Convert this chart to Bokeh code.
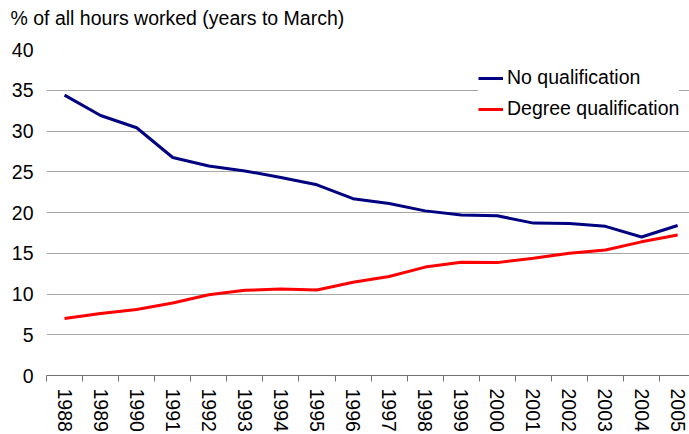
from bokeh.plotting import figure
from bokeh.models import (Range1d, FixedTicker, Legend, LegendItem, ColumnDataSource, Title)
from bokeh.embed import file_html
from bokeh.resources import INLINE

years = list(range(1988, 2006))
no_qualification = [34.4, 31.9, 30.4, 26.75, 25.7, 25.1, 24.3, 23.4, 21.7, 21.1,
                    20.2, 19.7, 19.6, 18.7, 18.65, 18.3, 17.0, 18.4]
degree_qualification = [7.0, 7.6, 8.1, 8.9, 9.9, 10.45, 10.6, 10.5, 11.45, 12.15,
                        13.3, 13.9, 13.85, 14.4, 15.0, 15.4, 16.4, 17.25]
y_ticks = [0, 5, 10, 15, 20, 25, 30, 35, 40]
title_text = "% of all hours worked (years to March)"
series_names = ["No qualification", "Degree qualification"]

FONT = "Liberation Sans"
FS = "19.5px"

src = ColumnDataSource(dict(year=years, noq=no_qualification, deg=degree_qualification))

p = figure(width=689, height=434, output_backend="svg", toolbar_location=None, title=None,
           x_range=Range1d(1987.5, 2005.33), y_range=Range1d(0, 40),
           min_border_left=46, min_border_right=0, min_border_top=49, min_border_bottom=58)
p.outline_line_color = None
p.background_fill_color = "white"
p.border_fill_color = "white"

# spacer panel just above the frame, then the real title above it
spacer = Title(text=" ", text_font_size="1px", standoff=18)
p.add_layout(spacer, "above")
main_title = Title(text=title_text, text_font=FONT, text_font_size=FS, text_font_style="normal",
                   text_color="black", align="left", offset=-36, standoff=0)
p.add_layout(main_title, "above")

r1 = p.line("year", "noq", source=src, line_color="#000080", line_width=3)
r2 = p.line("year", "deg", source=src, line_color="#FF0000", line_width=3)

# y axis
p.yaxis.ticker = FixedTicker(ticks=y_ticks)
p.yaxis.axis_line_color = None
p.yaxis.major_tick_line_color = None
p.yaxis.minor_tick_line_color = None
p.yaxis.major_tick_out = 0
p.yaxis.major_tick_in = 0
p.yaxis.major_label_standoff = 13
p.yaxis.major_label_text_font = FONT
p.yaxis.major_label_text_font_size = FS
p.yaxis.major_label_text_color = "black"

p.ygrid.ticker = FixedTicker(ticks=y_ticks)
p.ygrid.grid_line_color = "#a6a6a6"
p.ygrid.grid_line_width = 1
p.xgrid.grid_line_color = None

# x axis
p.xaxis.ticker = FixedTicker(ticks=years, minor_ticks=[y - 0.5 for y in years] + [years[-1] + 0.5])
p.xaxis.axis_line_color = "#707070"
p.xaxis.axis_line_width = 1
p.xaxis.major_tick_line_color = None
p.xaxis.major_tick_out = 0
p.xaxis.major_tick_in = 0
p.xaxis.minor_tick_line_color = "#707070"
p.xaxis.minor_tick_out = 6
p.xaxis.minor_tick_in = 0
p.xaxis.major_label_orientation = "vertical"
p.xaxis.major_label_standoff = 7
p.xaxis.major_label_text_font = FONT
p.xaxis.major_label_text_font_size = FS
p.xaxis.major_label_text_color = "black"

legend = Legend(items=[LegendItem(label=series_names[0], renderers=[r1]),
                       LegendItem(label=series_names[1], renderers=[r2])],
                location=(432, 255), padding=12, spacing=8,
                glyph_width=25, glyph_height=20, label_height=20, label_standoff=4,
                border_line_color=None, background_fill_color="white", background_fill_alpha=1.0,
                label_text_font=FONT, label_text_font_size=FS, label_text_color="black")
p.add_layout(legend)

open("out.html", "w").write(file_html(p, INLINE))
